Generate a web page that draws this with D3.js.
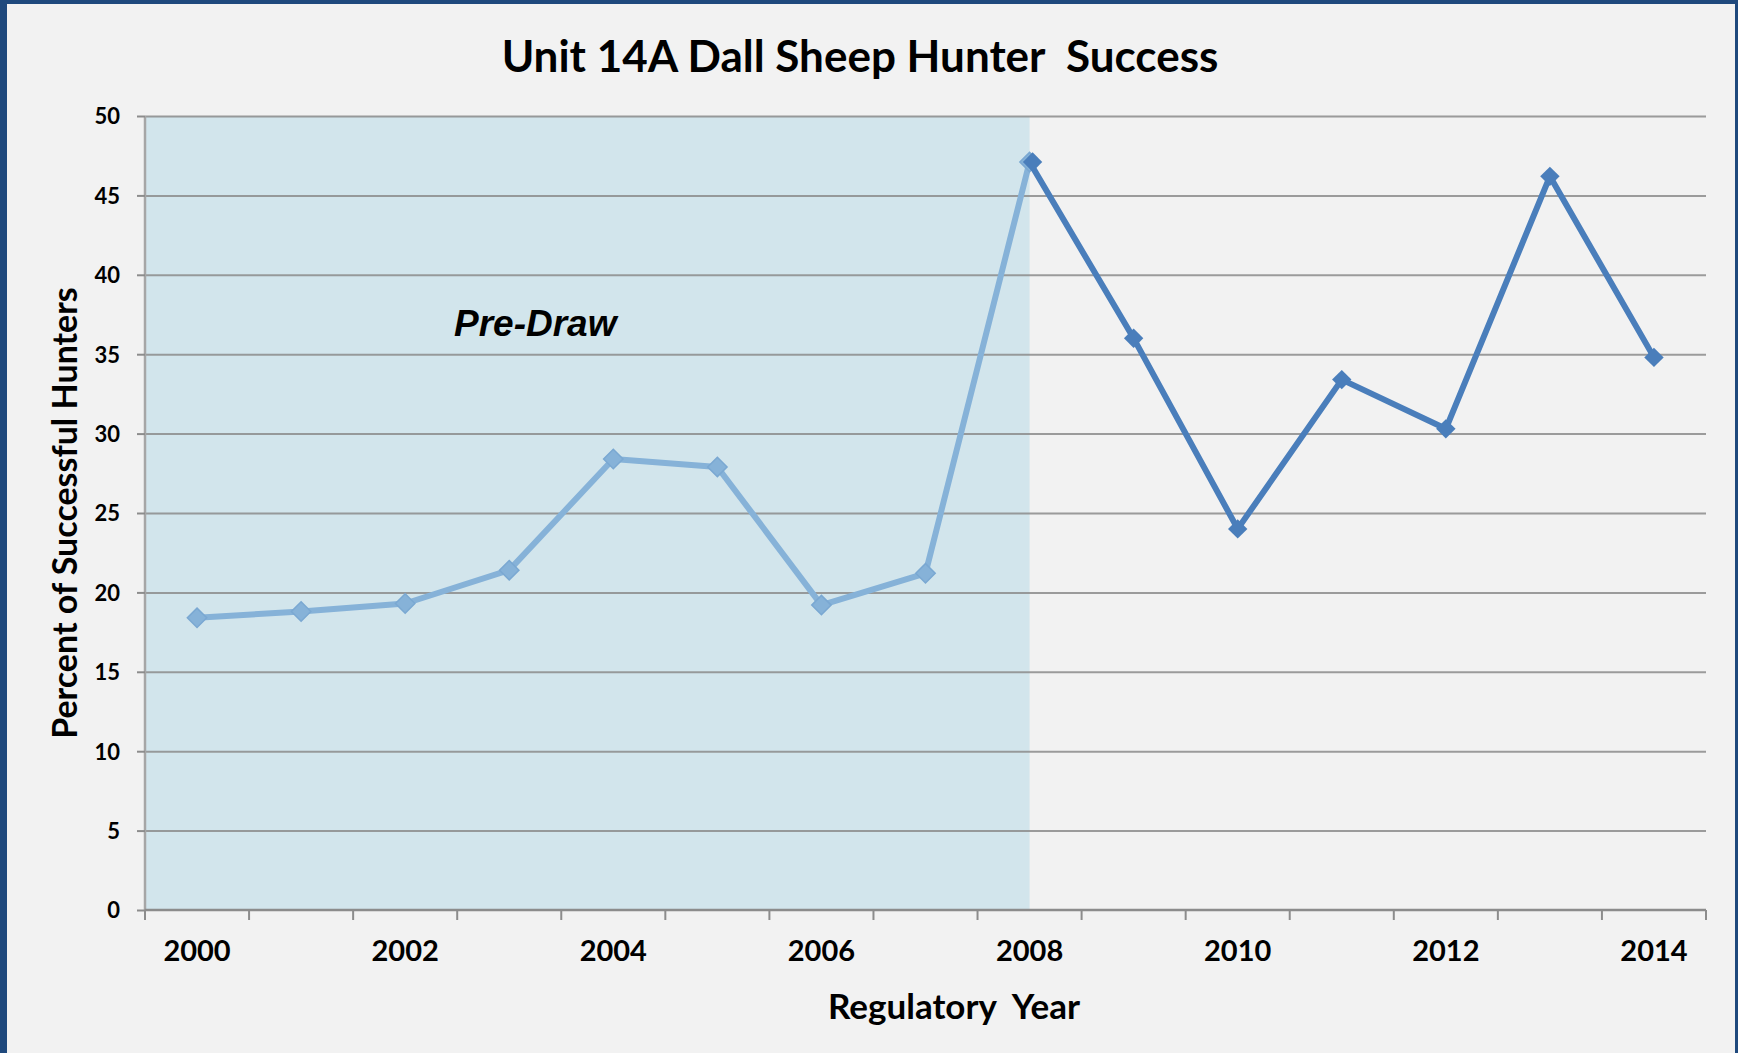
<!doctype html>
<html>
<head>
<title>Unit 14A Dall Sheep Hunter Success</title>
<script src="https://d3js.org/d3.v7.min.js"></script>
<style>
  body { margin: 0; background: #f2f2f2; }
  svg text { font-family: Lato, "Open Sans", sans-serif; font-weight: 700; fill: #000; }
</style>
</head>
<body>
<script>
// data
var years = [2000, 2001, 2002, 2003, 2004, 2005, 2006, 2007, 2008, 2009, 2010, 2011, 2012, 2013, 2014];
var preDrawYears = [2000, 2001, 2002, 2003, 2004, 2005, 2006, 2007, 2008];
var preDrawValues = [18.4, 18.8, 19.3, 21.4, 28.4, 27.9, 19.2, 21.2, 47.1];
var drawYears = [2008, 2009, 2010, 2011, 2012, 2013, 2014];
var drawValues = [47.1, 36.0, 24.0, 33.4, 30.3, 46.2, 34.8];
var yTicks = [0, 5, 10, 15, 20, 25, 30, 35, 40, 45, 50];
var xLabelYears = [2000, 2002, 2004, 2006, 2008, 2010, 2012, 2014];
var shadeRange = [2000, 2008];

var vizWidth = 1738,
    vizHeight = 1053,
    margin = {top: 116, right: 32, bottom: 143, left: 145},
    plotWidth = vizWidth - margin.left - margin.right,
    plotHeight = vizHeight - margin.top - margin.bottom;

var viz = d3.select("body").append("svg")
    .attr("width", vizWidth)
    .attr("height", vizHeight);

// background + frame
viz.append("rect").attr("width", vizWidth).attr("height", vizHeight).attr("fill", "#f2f2f2");
viz.append("rect").attr("x", 0).attr("y", 0).attr("width", 7).attr("height", vizHeight).attr("fill", "#1f497d");
viz.append("rect").attr("x", 0).attr("y", 0).attr("width", vizWidth).attr("height", 4).attr("fill", "#1f497d");
viz.append("rect").attr("x", vizWidth - 3).attr("y", 0).attr("width", 3).attr("height", vizHeight).attr("fill", "#1f497d");

var plot = viz.append("g")
    .attr("transform", "translate(" + margin.left + "," + margin.top + ")");

var x = d3.scaleBand().domain(years).range([0, plotWidth]);
var y = d3.scaleLinear().domain([0, 50]).range([plotHeight, 0]);
var cx = function(d) { return x(d) + x.bandwidth() / 2; };

// pre-draw shading
plot.append("rect")
    .attr("x", x(shadeRange[0]))
    .attr("y", y(50))
    .attr("width", cx(shadeRange[1]) - x(shadeRange[0]))
    .attr("height", y(0) - y(50))
    .attr("fill", "#d2e5ec");

// gridlines
plot.append("g")
    .call(d3.axisLeft(y).tickValues(yTicks.slice(1)).tickSize(-plotWidth).tickFormat(""))
    .call(function(g) {
      g.select(".domain").remove();
      g.selectAll("line").attr("stroke", "#8c8c8c").attr("stroke-width", 2).attr("stroke-opacity", 0.85);
    });

// y axis
plot.append("g")
    .call(d3.axisLeft(y).tickValues(yTicks).tickSize(8).tickPadding(17))
    .call(function(g) {
      g.select(".domain").attr("stroke", "#a6a6a6").attr("stroke-width", 2.5).attr("d", "M0," + y(50) + "V" + y(0));
      g.selectAll("line").attr("stroke", "#8c8c8c").attr("stroke-width", 2);
      g.selectAll("text").style("font-size", "22px").attr("dy", "0.36em");
    });

// x axis (ticks between categories)
var xAxis = plot.append("g").attr("transform", "translate(0," + plotHeight + ")");
xAxis.append("line").attr("x1", 0).attr("x2", plotWidth).attr("stroke", "#8c8c8c").attr("stroke-width", 2.5);
xAxis.selectAll(".tk")
    .data(years.concat([null]))
    .enter().append("line")
    .attr("x1", function(d, i) { return i < years.length ? x(d) : plotWidth; })
    .attr("x2", function(d, i) { return i < years.length ? x(d) : plotWidth; })
    .attr("y1", 0).attr("y2", 10)
    .attr("stroke", "#8c8c8c").attr("stroke-width", 2);
xAxis.selectAll(".lbl")
    .data(xLabelYears)
    .enter().append("text")
    .attr("x", cx)
    .attr("y", 51)
    .attr("text-anchor", "middle")
    .style("font-size", "29px")
    .text(function(d) { return d; });

// lines
var line = d3.line().x(function(d) { return cx(d[0]); }).y(function(d) { return y(d[1]); });
var preData = d3.zip(preDrawYears, preDrawValues);
var drawData = d3.zip(drawYears, drawValues);
var diamond = d3.symbol().type(d3.symbolDiamond2).size(240);

plot.append("path").datum(preData)
    .attr("d", line).attr("fill", "none")
    .attr("stroke", "#86b2d8").attr("stroke-width", 6).attr("stroke-linejoin", "round");
plot.selectAll(".preMark").data(preData).enter().append("path")
    .attr("d", diamond)
    .attr("transform", function(d) { return "translate(" + cx(d[0]) + "," + y(d[1]) + ")"; })
    .attr("fill", "#86b2d8").attr("stroke", "#7aa8d2").attr("stroke-width", 1.5);

plot.append("path").datum(drawData)
    .attr("d", line).attr("fill", "none")
    .attr("stroke", "#4a7ebb").attr("stroke-width", 6).attr("stroke-linejoin", "round");
plot.selectAll(".drawMark").data(drawData.slice(1)).enter().append("path")
    .attr("d", diamond)
    .attr("transform", function(d) { return "translate(" + cx(d[0]) + "," + y(d[1]) + ")"; })
    .attr("fill", "#4a7ebb");
plot.append("path")
    .attr("d", diamond)
    .attr("transform", "translate(" + (cx(drawYears[0]) + 3) + "," + y(drawValues[0]) + ")")
    .attr("fill", "#4a7ebb");

// annotation
plot.append("text")
    .attr("x", 309).attr("y", 220)
    .style("font-family", "'Liberation Sans', Arial, sans-serif")
    .style("font-style", "italic")
    .style("font-size", "37px")
    .text("Pre-Draw");

// titles
viz.append("text")
    .attr("x", 860).attr("y", 72)
    .attr("text-anchor", "middle")
    .style("font-size", "44px")
    .style("white-space", "pre")
    .text("Unit 14A Dall Sheep Hunter  Success");

viz.append("text")
    .attr("x", 954).attr("y", 1019)
    .attr("text-anchor", "middle")
    .style("font-size", "35px")
    .style("white-space", "pre")
    .text("Regulatory  Year");

viz.append("text")
    .attr("transform", "translate(77,513) rotate(-90)")
    .attr("text-anchor", "middle")
    .style("font-size", "34px")
    .text("Percent of Successful Hunters");
</script>
</body>
</html>
